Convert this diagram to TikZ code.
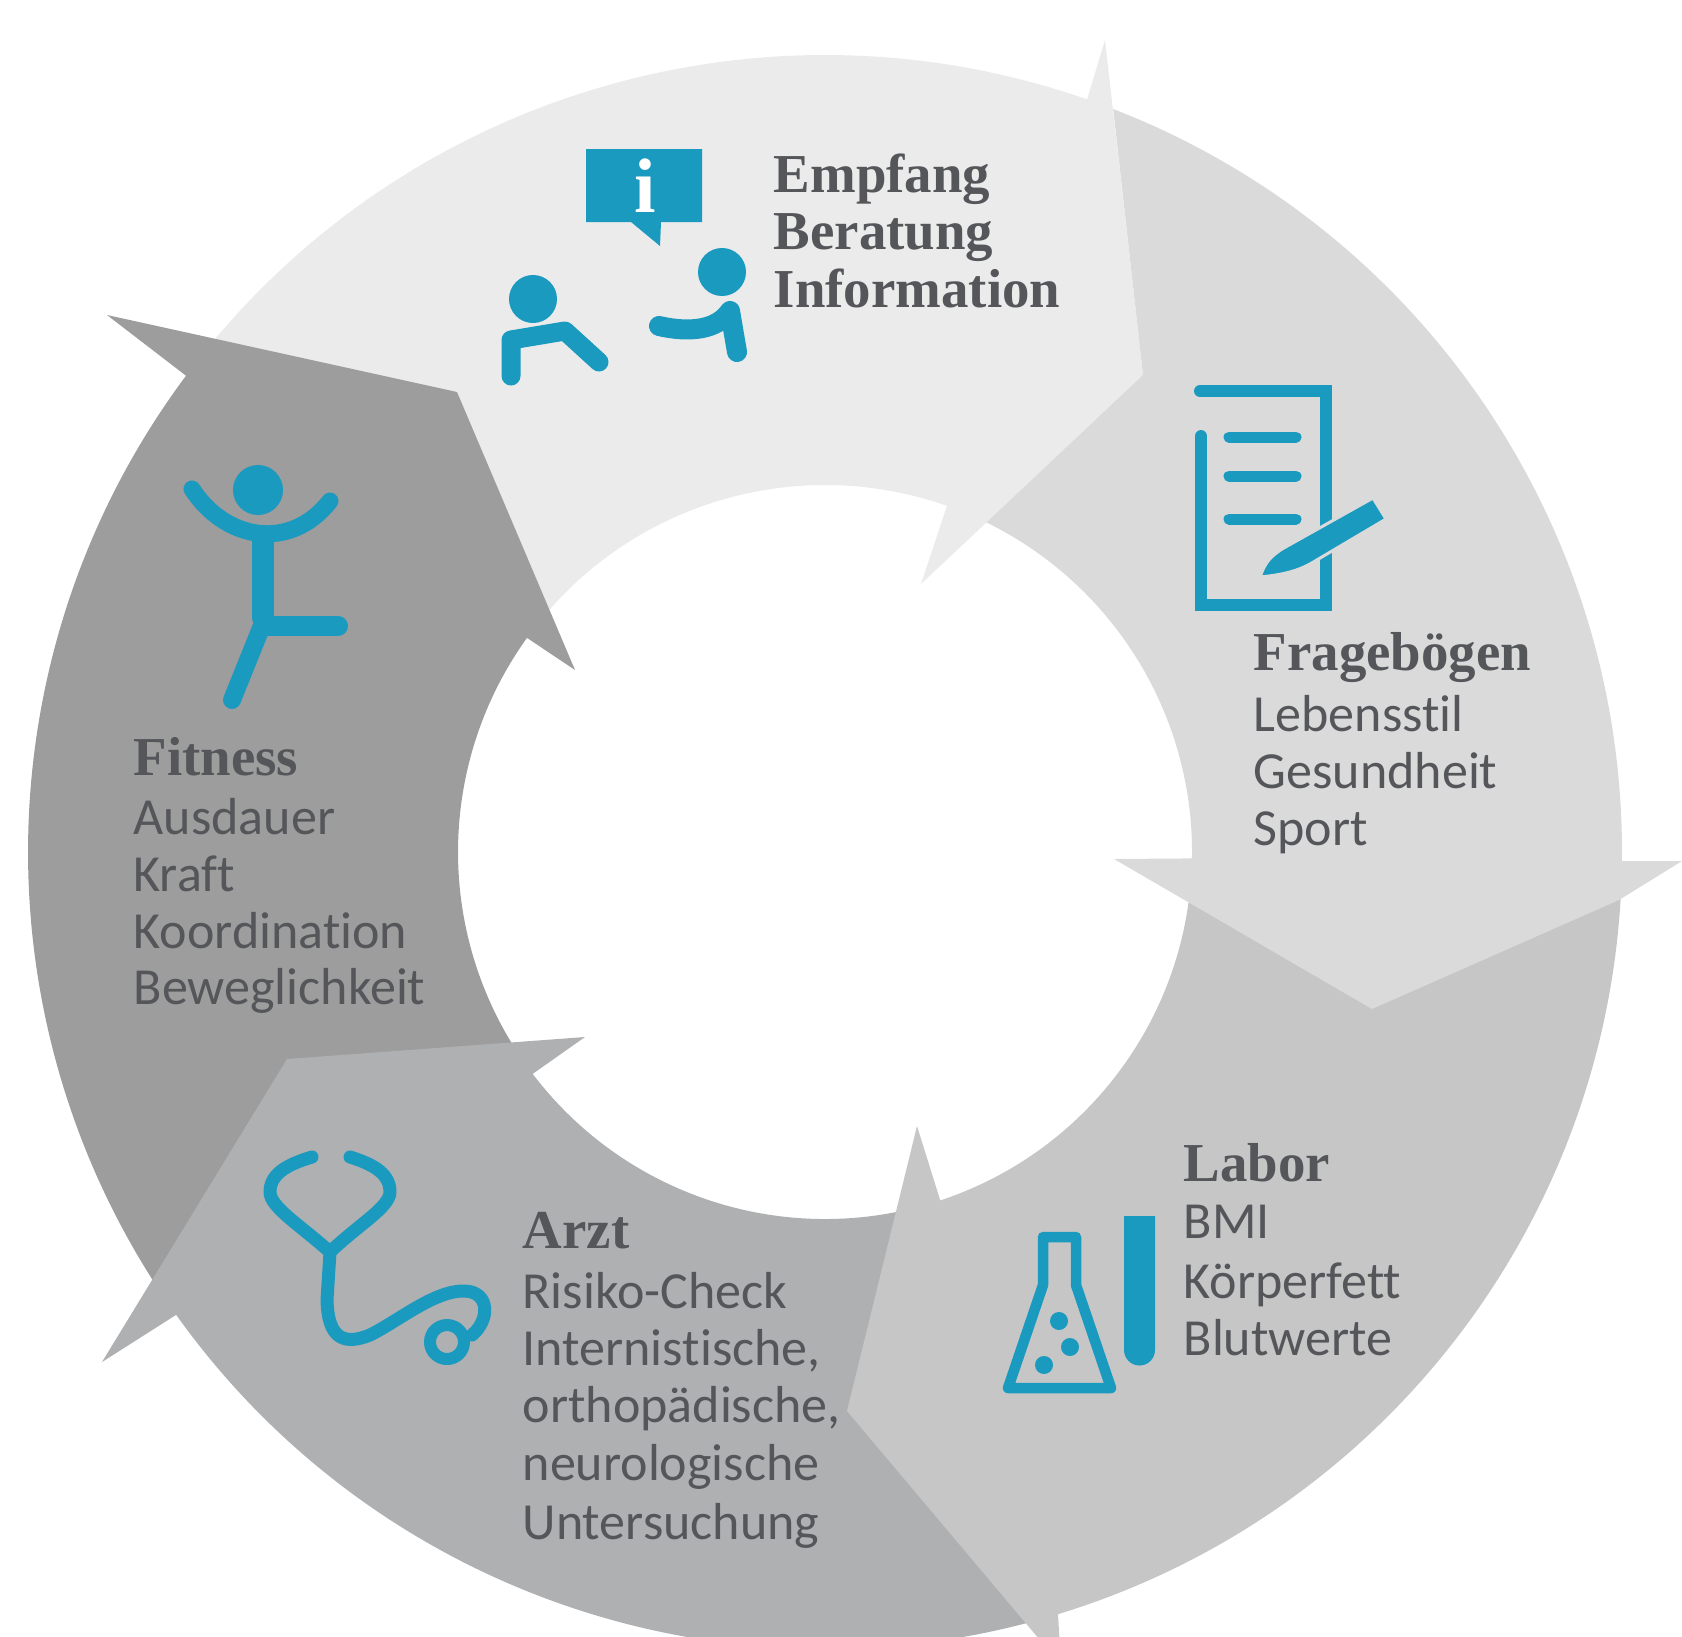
\documentclass[tikz,border=0pt]{standalone}
\usepackage{fontspec}
\setmainfont{Carlito}[Ligatures=CommonOff]
\newfontfamily\headfont{Liberation Serif}
\definecolor{ringa}{HTML}{EBEBEC}
\definecolor{ringb}{HTML}{DADADB}
\definecolor{ringc}{HTML}{C6C6C7}
\definecolor{ringd}{HTML}{AFB0B2}
\definecolor{ringe}{HTML}{9D9D9D}
\definecolor{teal}{HTML}{1A9ABF}
\definecolor{textgrey}{HTML}{54565A}
\tikzset{
  headline/.style={anchor=base west,inner sep=0pt,text=textgrey,font=\headfont\bfseries\fontsize{15.6}{18}\selectfont},
  textline/.style={anchor=base west,inner sep=0pt,text=textgrey,font=\fontsize{14.8}{18}\selectfont},
  icon/.style={draw=teal,line cap=round,line join=round,line width=#1},
  blob/.style={circle,fill=teal,inner sep=0pt,minimum size=#1}
}
\begin{document}
\begin{tikzpicture}[x=0.01cm,y=-0.01cm]
\clip (0,0) rectangle (1682,1636);
\fill [ringa] ([shift={(825,852)}]-140:797) arc[start angle=-140,end angle=-70.8,radius=797] -- (1105,40) -- (1143,375) -- (921,584) -- ([shift={(825,852)}]-70.6:367) arc[start angle=-70.6,end angle=-140,radius=367] -- cycle;
\fill [ringe] (107,315) -- ([shift={(825,852)}]216.7:797) arc[start angle=216.7,end angle=146,radius=797] -- ([shift={(825,852)}]146:367) arc[start angle=146,end angle=215.7,radius=367] -- (575,670) -- (457,392) -- cycle;
\fill [ringd] (585,1037) -- ([shift={(825,852)}]142.8:367) arc[start angle=142.8,end angle=75,radius=367] -- ([shift={(825,852)}]75:797) arc[start angle=75,end angle=144.5,radius=797] -- (102,1362) -- (287,1059) -- cycle;
\fill [ringc] (917,1126) -- ([shift={(825,852)}]71.7:367) arc[start angle=71.7,end angle=3,radius=367] -- ([shift={(825,852)}]3:797) arc[start angle=3,end angle=73,radius=797] -- (1061,1665) -- (847,1411) -- cycle;
\fill [ringb] ([shift={(825,852)}]-63.9:367) arc[start angle=-63.9,end angle=1,radius=367] -- (1114,859) -- (1372,1009) -- (1619,900) -- (1682,861) -- ([shift={(825,852)}]0.65:797) arc[start angle=0.65,end angle=-68.8,radius=797] -- (1143,375) -- cycle;

\fill [teal] (586,149) -- (702,149) -- (702,222) -- (661,222) -- (660,246) -- (631,222) -- (586,222) -- cycle;
\node [text=white,inner sep=0pt,font=\headfont\bfseries\fontsize{22}{22}\selectfont] (info) at (645,186) {i};
\node [blob=0.48cm] (head1) at (533,299) {};
\node [blob=0.48cm] (head2) at (722,272) {};
\draw [icon=0.19cm] (511,376) -- (511,340) -- (565,331) -- (599,362);
\draw [icon=0.2cm] (659,326) .. controls (690,333) and (717,330) .. (730,311) -- (737,352);

\draw [icon=0.12cm,line join=miter] (1200,391) -- (1326,391) -- (1326,605) -- (1201,605) -- (1201,436);
\draw [icon=0.11cm] (1229,437) -- (1296,437);
\draw [icon=0.11cm] (1229,476) -- (1296,476);
\draw [icon=0.11cm] (1229,519) -- (1296,519);
\filldraw [fill=teal,draw=ringb,line width=0.03cm] (1260,577) .. controls (1266,560) and (1272,556) .. (1282,549) -- (1373,498) -- (1386,519) -- (1310,564) .. controls (1295,572) and (1280,575) .. (1260,577) -- cycle;

\draw [icon=0.105cm] (1043,1237) -- (1076,1237) -- (1076,1285) -- (1111,1388) -- (1008,1388) -- (1043,1285) -- cycle;
\node [blob=0.18cm] (bub1) at (1059,1321) {};
\node [blob=0.18cm] (bub2) at (1070,1347) {};
\node [blob=0.18cm] (bub3) at (1044,1365) {};
\fill [teal] (1124,1216) -- (1155,1216) -- (1155,1350) arc[start angle=0,end angle=180,radius=15.5] -- cycle;

\draw [icon=0.13cm] (312,1157) .. controls (285,1165) and (270,1175) .. (270,1192) .. controls (270,1207) and (300,1225) .. (330,1252);
\draw [icon=0.13cm] (350,1157) .. controls (376,1165) and (390,1175) .. (390,1192) .. controls (390,1207) and (358,1225) .. (330,1252);
\draw [icon=0.13cm] (330,1252) -- (327,1300) .. controls (328,1340) and (345,1345) .. (370,1335) .. controls (400,1320) and (435,1290) .. (465,1291) .. controls (490,1292) and (490,1320) .. (472,1335);
\draw [icon=0.12cm] (447,1342) circle[radius=17];

\node [blob=0.5cm] (head3) at (258,490) {};
\draw [icon=0.17cm] (192,489) .. controls (225,540) and (290,552) .. (330,501);
\draw [icon=0.22cm] (263,539) -- (263,618);
\draw [icon=0.18cm] (263,623) -- (232,700);
\draw [icon=0.2cm] (267,626) -- (338,626);

\node [headline] (t0) at (773,192) {Empfang};
\node [headline] (t1) at (773,249) {Beratung};
\node [headline] (t2) at (773,307) {Information};
\node [headline] (f0) at (1253,670) {Fragebögen};
\node [textline] (f1) at (1253,731) {Lebensstil};
\node [textline] (f2) at (1253,788) {Gesundheit};
\node [textline] (f3) at (1253,845) {Sport};
\node [headline] (l0) at (1183,1181) {Labor};
\node [textline] (l1) at (1183,1238) {BMI};
\node [textline] (l2) at (1183,1298) {Körperfett};
\node [textline] (l3) at (1183,1355) {Blutwerte};
\node [headline] (a0) at (522,1248) {Arzt};
\node [textline] (a1) at (522,1308) {Risiko-Check};
\node [textline] (a2) at (522,1365) {Internistische,};
\node [textline] (a3) at (522,1422) {orthopädische,};
\node [textline] (a4) at (522,1480) {neurologische};
\node [textline] (a5) at (522,1539) {Untersuchung};
\node [headline] (b0) at (133,775) {Fitness};
\node [textline] (b1) at (133,834) {Ausdauer};
\node [textline] (b2) at (133,891) {Kraft};
\node [textline] (b3) at (133,948) {Koordination};
\node [textline] (b4) at (133,1004) {Beweglichkeit};
\end{tikzpicture}
\end{document}
